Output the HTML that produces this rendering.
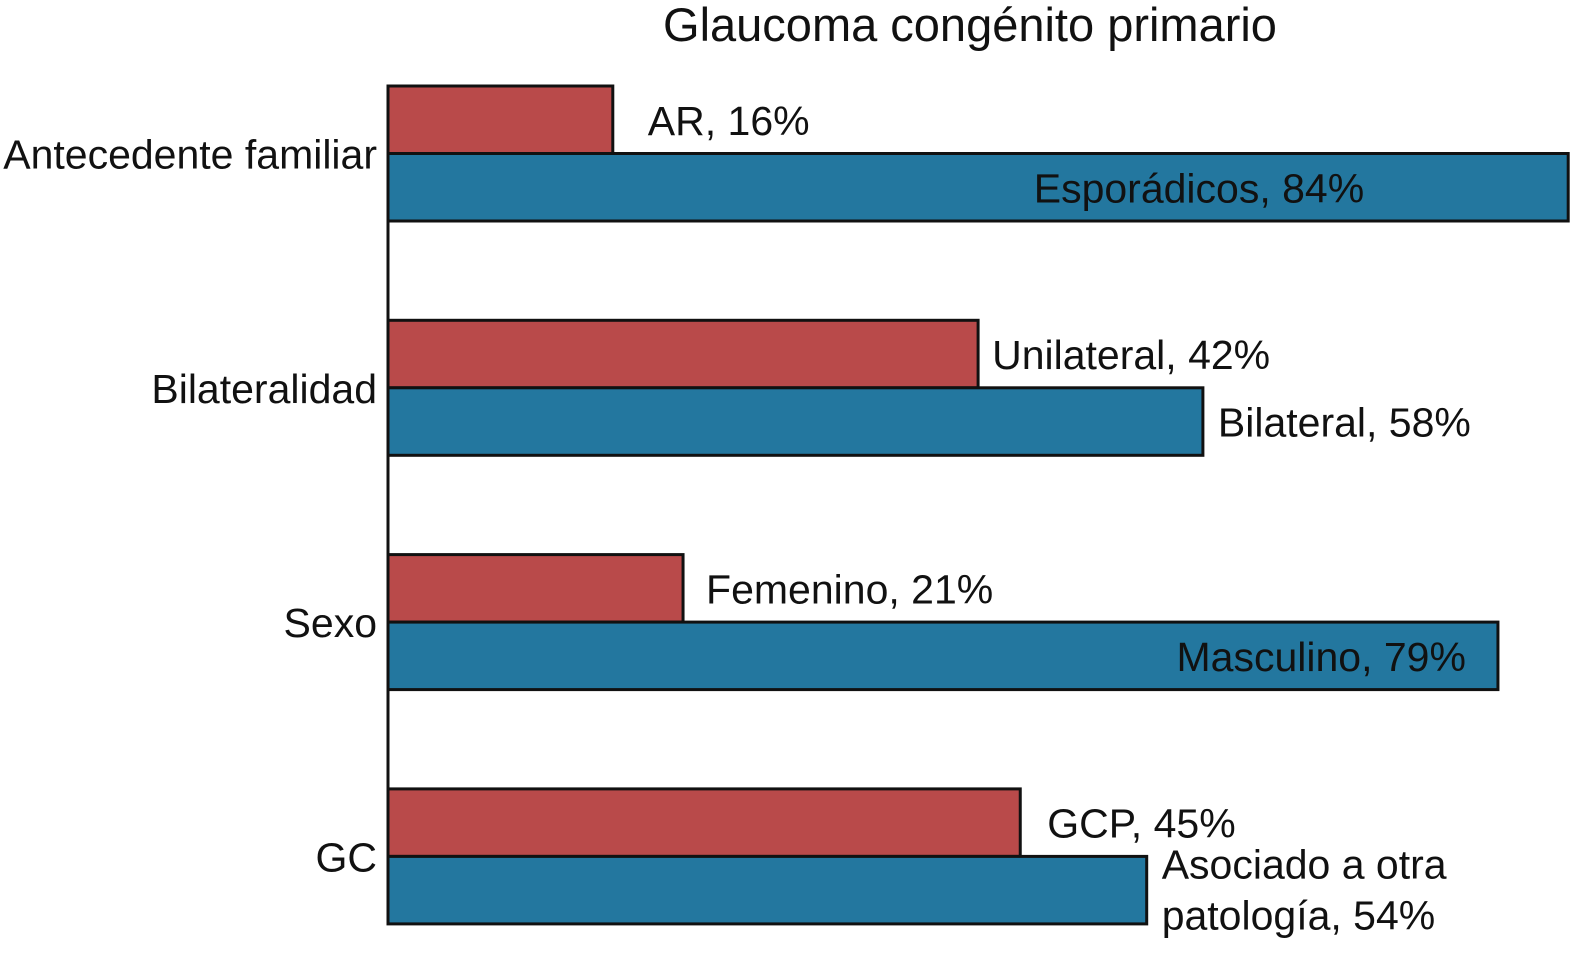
<!DOCTYPE html>
<html><head><meta charset="utf-8"><style>
html,body{margin:0;padding:0;background:#fff;}
svg{display:block;font-family:"Liberation Sans",Arial,sans-serif;}
</style></head><body>
<svg id="chart" width="1579" height="955">
<text x="970" y="41" text-anchor="middle" font-size="47" fill="#111">Glaucoma congénito primario</text>
</svg>
<script>
const categories = ["Antecedente familiar","Bilateralidad","Sexo","GC"];
const redValues = [16,42,21,45];
const blueValues = [84,58,79,54];
const redLabels = ["AR, 16%","Unilateral, 42%","Femenino, 21%","GCP, 45%"];
const blueLabels = [["Esporádicos, 84%"],["Bilateral, 58%"],["Masculino, 79%"],["Asociado a otra","patología, 54%"]];
const blueInside = [true,false,true,false];

const svg = document.getElementById('chart');
const NS = 'http://www.w3.org/2000/svg';
const x0 = 388, pxPer = 14.05;
const xs = v => x0 + v * pxPer;
const groupTop = i => 86 + i * 234.3;
const barH = 67.5;
const FS = 41;
const redGap = [35,14,23,27];
const insideGap = [204,32,32,32];

function mk(tag, attrs){ const e=document.createElementNS(NS,tag); for(const k in attrs) e.setAttribute(k,attrs[k]); svg.appendChild(e); return e; }

categories.forEach((c,i)=>{
  const top = groupTop(i);
  const r = mk('rect',{x:x0,y:top,width:xs(redValues[i])-x0,height:barH,fill:'#b94a4a',stroke:'#111','stroke-width':3});
  
  
  const b = mk('rect',{x:x0,y:top+barH,width:xs(blueValues[i])-x0,height:barH,fill:'#23779f',stroke:'#111','stroke-width':3});
  
  
  const cl = mk('text',{x:377,y:top+barH+15,'text-anchor':'end','font-size':FS,fill:'#111'});
  cl.textContent = c;
  
  
  const rl = mk('text',{x:xs(redValues[i])+redGap[i],y:top+barH/2+15,'font-size':FS,fill:'#111'});
  rl.textContent = redLabels[i];
  
  
  const lines = blueLabels[i];
  lines.forEach((ln,j)=>{
    let attrs;
    if(blueInside[i]) attrs={x:xs(blueValues[i])-insideGap[i],y:top+barH*1.5+15,'text-anchor':'end'};
    else attrs={x:xs(blueValues[i])+15,y:(lines.length>1? top+barH+22+j*51 : top+barH*1.5+15)};
    attrs['font-size']=FS; attrs.fill='#111';
    const t = mk('text',attrs);
    t.textContent = ln;
    
    
  });
});
const ax = mk('line',{x1:x0,y1:86,x2:x0,y2:groupTop(3)+2*barH,stroke:'#111','stroke-width':3});


</script>
</body></html>
